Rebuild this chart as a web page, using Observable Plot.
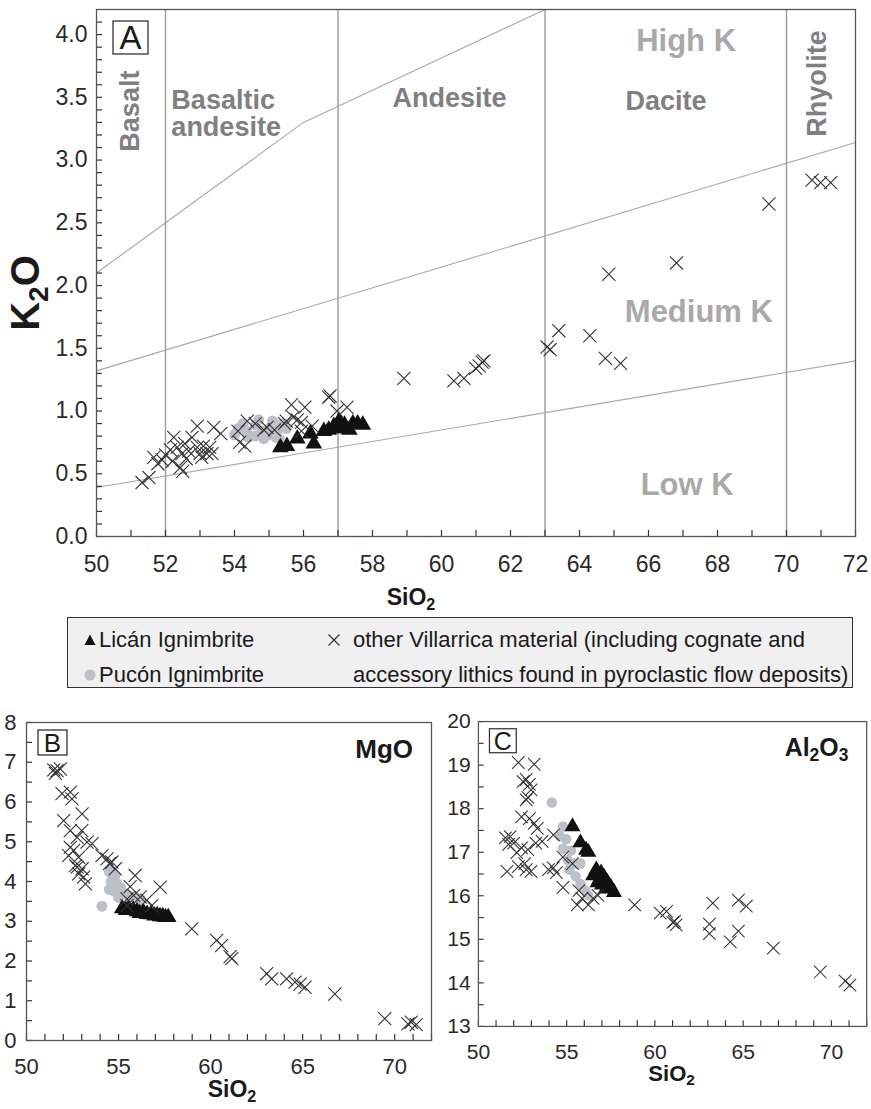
<!DOCTYPE html>
<html>
<head>
<meta charset="utf-8">
<script src="https://cdn.jsdelivr.net/npm/d3@7"></script>
<script src="https://cdn.jsdelivr.net/npm/@observablehq/plot@0.6"></script>
<style>
  html, body { margin: 0; padding: 0; background: #fff; }
  #fig { position: relative; width: 871px; height: 1109px; overflow: hidden;
         font-family: "Liberation Sans", Arial, Helvetica, sans-serif; color: #222; }
  #legend { position: absolute; left: 67px; top: 617px; width: 786px; height: 71px; box-sizing: border-box;
            background: #f0f0f0; border: 1.5px solid #333; }
  #legend .t { position: absolute; font-size: 22px; line-height: 26px; white-space: nowrap; color: #1a1a1a; }
  #legend svg { position: absolute; }
</style>
</head>
<body>
<div id="fig">
  <div id="legend"></div>
</div>
<script>
// ---------------- DATA ----------------
// Panel A: K2O vs SiO2 (wt%)
const licanK2O = [[55.33,0.71],[55.52,0.72],[55.82,0.78],[56.2,0.82],[56.3,0.74],[56.59,0.84],[56.73,0.85],
  [56.88,0.88],[57.03,0.92],[57.08,0.86],[57.19,0.89],[57.33,0.85],[57.43,0.90],[57.57,0.90],[57.72,0.89]];
const puconK2O = [[54.1,0.86],[54.35,0.84],[54.6,0.80],[54.85,0.78],[55.05,0.81],[55.25,0.85],[54.6,0.89],
  [55.0,0.86],[55.4,0.90],[55.5,0.86],[55.2,0.79],[54.8,0.84],[54.25,0.90],[54.4,0.79],[54.7,0.93],
  [55.1,0.92],[55.3,0.78],[54.0,0.81]];
const otherK2O = [[51.32,0.43],[51.52,0.47],[51.66,0.63],[51.78,0.58],[51.9,0.61],[52.0,0.65],[52.14,0.69],
  [52.24,0.79],[52.2,0.60],[52.34,0.71],[52.43,0.55],[52.5,0.52],[52.48,0.66],[52.56,0.74],[52.67,0.68],
  [52.77,0.79],[52.6,0.62],[52.92,0.88],[52.92,0.71],[53.0,0.66],[53.1,0.72],[53.05,0.63],[53.2,0.66],
  [53.28,0.71],[53.35,0.66],[53.4,0.87],[53.6,0.82],[54.1,0.84],[54.15,0.75],[54.3,0.72],[54.37,0.92],
  [54.6,0.90],[54.85,0.85],[54.94,0.87],[55.16,0.85],[55.45,0.90],[55.5,0.92],[55.65,1.05],[55.7,0.95],
  [55.82,0.93],[55.94,0.91],[56.04,1.03],[55.94,0.84],[56.25,0.88],[56.73,1.11],[56.77,1.12],[56.97,1.00],
  [57.26,1.03],[58.91,1.26],[60.36,1.24],[60.65,1.26],[60.99,1.34],[61.09,1.36],[61.18,1.39],[61.23,1.40],
  [63.06,1.51],[63.15,1.49],[63.4,1.64],[64.3,1.60],[64.75,1.42],[65.19,1.38],[64.85,2.09],[66.81,2.18],
  [69.49,2.65],[70.74,2.84],[70.99,2.82],[71.28,2.82]];
const lowMediumK = [[50,0.39],[72,1.40]];
const mediumHighK = [[50,1.32],[72,3.14]];
const highShoshoniticK = [[50,2.10],[56,3.30],[63,4.20]];
const rockDividers = [52, 57, 63, 70];
const rockNames = ["Basalt", "Basaltic", "andesite", "Andesite", "Dacite", "Rhyolite"];
const rockNameX = [50.99, 52.17, 52.17, 60.23, 66.51, 70.89];
const rockNameY = [3.39, 3.41, 3.19, 3.49, 3.47, 3.61];
const seriesNames = ["High K", "Medium K", "Low K"];
const seriesNameX = [67.09, 67.46, 67.12];
const seriesNameY = [3.95, 1.79, 0.41];
const k2oTickLabels = [0, 0.5, 1.0, 1.5, 2.0, 2.5, 3.0, 3.5, 4.0];
const k2oMinorTicks = d3.range(0, 42).map(i => i / 10);
const sio2TickLabelsA = [50, 52, 54, 56, 58, 60, 62, 64, 66, 68, 70, 72];
const sio2MinorTicks = d3.range(50, 73);

// Panel B: MgO vs SiO2
const licanMgO = [[55.2,3.32],[55.4,3.28],[55.55,3.30],[55.8,3.28],[56.0,3.25],[56.15,3.20],[56.35,3.22],
  [56.55,3.18],[56.75,3.17],[56.95,3.14],[57.1,3.15],[57.25,3.12],[57.4,3.12],[57.55,3.10],[57.7,3.10]];
const puconMgO = [[54.5,4.25],[54.8,4.15],[54.6,4.0],[54.9,3.95],[54.5,3.8],[54.8,3.75],[55.1,3.85],
  [55.0,3.6],[55.3,3.7],[55.6,3.62],[55.9,3.6],[56.2,3.55],[54.1,3.38]];
const otherMgO = [[51.48,6.81],[51.66,6.79],[51.84,6.83],[51.57,6.72],[51.93,6.21],[52.38,6.25],[52.47,6.08],
  [53.02,5.70],[52.02,5.53],[52.38,5.28],[53.0,5.28],[52.75,5.11],[53.29,4.99],[53.56,4.95],[52.38,4.86],
  [52.56,4.78],[52.29,4.65],[52.83,4.61],[52.66,4.40],[53.02,4.32],[52.84,4.19],[53.2,3.94],[53.1,4.11],
  [52.75,4.36],[54.1,4.65],[54.37,4.57],[54.64,4.49],[54.82,4.32],[54.5,4.45],[55.9,4.15],[55.63,3.87],
  [57.26,3.86],[55.46,3.56],[55.82,3.65],[56.18,3.61],[56.54,3.53],[55.46,3.39],[56.8,3.39],[58.98,2.81],
  [60.33,2.52],[60.6,2.39],[61.06,2.11],[61.15,2.06],[63.05,1.68],[63.32,1.55],[64.13,1.55],[64.59,1.47],
  [64.86,1.42],[65.13,1.34],[66.75,1.17],[69.46,0.55],[70.72,0.42],[70.9,0.46],[71.17,0.40]];
const mgoTickLabels = [0, 1, 2, 3, 4, 5, 6, 7, 8];
const mgoMinorTicks = d3.range(0, 17).map(i => i / 2);

// Panel C: Al2O3 vs SiO2
const licanAl2O3 = [[55.33,17.59],[55.78,17.22],[56.1,17.05],[56.23,17.0],[56.5,16.46],[56.68,16.6],
  [56.86,16.38],[56.95,16.53],[57.13,16.42],[57.22,16.16],[57.31,16.31],[57.5,16.2],[57.68,16.08],[56.75,16.3],[57.0,16.25]];
const puconAl2O3 = [[54.16,18.14],[54.79,17.59],[54.61,17.37],[54.97,17.3],[54.79,17.08],[55.24,17.04],
  [55.06,16.82],[55.42,16.74],[55.15,16.6],[55.78,16.74],[55.51,16.45],[55.78,16.27],[56.05,16.12],[56.23,16.01]];
const otherAl2O3 = [[52.26,19.06],[53.16,19.02],[52.53,18.62],[52.71,18.67],[52.89,18.56],[52.98,18.43],
  [52.8,18.26],[52.71,18.2],[52.44,17.81],[52.89,17.77],[53.16,17.66],[53.34,17.55],[51.53,17.33],[51.8,17.36],
  [51.71,17.18],[52.0,17.21],[52.17,16.99],[52.44,17.1],[52.8,17.06],[53.25,17.21],[53.61,17.25],[54.25,17.4],
  [51.62,16.56],[52.26,16.67],[52.62,16.74],[52.71,16.6],[52.98,16.56],[53.97,16.6],[54.24,16.64],[54.42,16.53],
  [54.78,16.89],[54.79,16.19],[55.33,16.74],[55.69,16.12],[55.6,15.79],[55.87,15.94],[56.23,15.79],[56.5,15.94],
  [56.77,16.01],[58.85,15.79],[60.3,15.6],[60.66,15.64],[61.02,15.39],[61.2,15.33],[61.11,15.41],[63.09,15.35],
  [63.09,15.13],[63.28,15.83],[64.27,14.94],[64.73,15.19],[64.73,15.9],[65.18,15.76],[66.71,14.8],[69.37,14.25],
  [70.78,14.04],[71.05,13.95]];
const al2o3TickLabels = [13, 14, 15, 16, 17, 18, 19, 20];
const al2o3MinorTicks = d3.range(26, 41).map(i => i / 2);
const sio2TickLabelsBC = [50, 55, 60, 65, 70];

// ---------------- RENDER ----------------
const font = '"Liberation Sans", Arial, Helvetica, sans-serif';
const fig = document.getElementById("fig");
const pt = {x: d => d[0], y: d => d[1]};
const gray = "#bcc0c7";
const TICK = 6;

function place(node, left, top) {
  const w = document.createElement("div");
  w.style.cssText = `position:absolute;left:${left}px;top:${top}px;`;
  w.appendChild(node);
  fig.appendChild(w);
  return node;
}
function symbols(pucon, lican, other) {
  return [
    Plot.dot(pucon, {...pt, r: 5.5, fill: gray, stroke: "none"}),
    Plot.dot(lican, {...pt, symbol: "triangle", r: 6.2, fill: "#111", stroke: "none"}),
    Plot.dot(other, {...pt, symbol: "times", r: 6, stroke: "#333", strokeWidth: 1.1, fill: "none"})
  ];
}
// Inward minor ticks as short rules; their data-space length is derived from the
// pixel size of the inner plot area so that each stub is TICK pixels long.
function axes(xDom, yDom, yMajor, yFmt, xMajor, yMinor, xMinor, w, h, fs, yPad, xPad) {
  const dx = (xDom[1] - xDom[0]) * TICK / w;
  const dy = (yDom[1] - yDom[0]) * TICK / h;
  return [
    Plot.ruleY(yMinor, {y: d => d, x1: xDom[0], x2: xDom[0] + dx, stroke: "#333", strokeWidth: 1.2}),
    Plot.ruleX(xMinor, {x: d => d, y1: yDom[0], y2: yDom[0] + dy, stroke: "#333", strokeWidth: 1.2}),
    Plot.axisY(yMajor, {tickSize: 0, tickPadding: yPad, tickFormat: yFmt, fontSize: fs, fill: "#2a2a2a", label: null}),
    Plot.axisX(xMajor, {tickSize: 0, tickPadding: xPad, tickFormat: d => String(d), fontSize: fs, fill: "#2a2a2a", label: null}),
    Plot.frame({stroke: "#555", strokeWidth: 1.3})
  ];
}
function richText(svg, parts, {x, y, size, weight = "bold", anchor = "middle", rotate = 0, fill = "#1a1a1a"}) {
  const t = d3.select(svg).append("text")
    .attr("transform", `translate(${x},${y}) rotate(${rotate})`)
    .attr("text-anchor", anchor).attr("font-size", size).attr("font-weight", weight)
    .attr("font-family", font).attr("fill", fill);
  let shifted = 0;
  for (const [s, sub] of parts) {
    const ts = t.append("tspan").text(s);
    const want = sub ? size * 0.22 : 0;
    if (want !== shifted) { ts.attr("dy", want - shifted); shifted = want; }
    if (sub) ts.attr("font-size", size * 0.7);
  }
}
function boxLabel(svg, letter, x, y, w, h, size) {
  const s = d3.select(svg);
  s.append("rect").attr("x", x).attr("y", y).attr("width", w).attr("height", h)
    .attr("fill", "#fff").attr("stroke", "#333").attr("stroke-width", 1.3);
  s.append("text").attr("x", x + w / 2).attr("y", y + h / 2 + size * 0.36)
    .attr("text-anchor", "middle").attr("font-size", size).attr("font-family", font)
    .attr("fill", "#1a1a1a").text(letter);
}
const common = {style: {fontFamily: font, background: "none", overflow: "visible", color: "#2a2a2a"}};

// ----- Panel A -----
const A = {width: 871, height: 612, marginLeft: 96, marginRight: 16, marginTop: 9, marginBottom: 76};
const xDomA = [50, 72], yDomA = [0, 4.2];
const svgA = Plot.plot({
  ...common, ...A,
  x: {domain: xDomA}, y: {domain: yDomA},
  marks: [
    Plot.ruleX(rockDividers, {stroke: "#9a9a9a", strokeWidth: 1.4}),
    Plot.line(lowMediumK, {...pt, stroke: "#a8a8a8", strokeWidth: 1.1}),
    Plot.line(mediumHighK, {...pt, stroke: "#a8a8a8", strokeWidth: 1.1}),
    Plot.line(highShoshoniticK, {...pt, stroke: "#a8a8a8", strokeWidth: 1.1}),
    Plot.text([0, 5], {x: i => rockNameX[i], y: i => rockNameY[i], text: i => rockNames[i],
      rotate: -90, fontSize: 27, fontWeight: "bold", fill: "#808080"}),
    Plot.text([1, 2], {x: i => rockNameX[i], y: i => rockNameY[i], text: i => rockNames[i], textAnchor: "start",
      lineAnchor: "bottom", fontSize: 27, fontWeight: "bold", fill: "#808080"}),
    Plot.text([3, 4], {x: i => rockNameX[i], y: i => rockNameY[i], text: i => rockNames[i],
      fontSize: 27, fontWeight: "bold", fill: "#808080"}),
    Plot.text(d3.range(seriesNames.length), {x: i => seriesNameX[i], y: i => seriesNameY[i], text: i => seriesNames[i],
      fontSize: 31, fontWeight: "bold", fill: "#a9a9a9"}),
    ...symbols(puconK2O, licanK2O, otherK2O),
    ...axes(xDomA, yDomA, k2oTickLabels, ".1f", sio2TickLabelsA, k2oMinorTicks, sio2MinorTicks,
      A.width - A.marginLeft - A.marginRight, A.height - A.marginTop - A.marginBottom, 23, 9, 19)
  ]
});
place(svgA, 0, 0);
boxLabel(svgA, "A", 113, 21, 35, 33, 33);
richText(svgA, [["K", false], ["2", true], ["O", false]], {x: 39, y: 293, size: 40, rotate: -90});
richText(svgA, [["SiO", false], ["2", true]], {x: 411, y: 605, size: 23});

// ----- Panel B -----
const B = {width: 440, height: 409, marginLeft: 26, marginRight: 9, marginTop: 22, marginBottom: 69};
const xDomB = [50, 72], yDomB = [0, 8];
const svgB = Plot.plot({
  ...common, ...B,
  x: {domain: xDomB}, y: {domain: yDomB},
  marks: [
    ...symbols(puconMgO, licanMgO, otherMgO),
    ...axes(xDomB, yDomB, mgoTickLabels, d => String(d), sio2TickLabelsBC, mgoMinorTicks, sio2MinorTicks,
      B.width - B.marginLeft - B.marginRight, B.height - B.marginTop - B.marginBottom, 22, 10, 18)
  ]
});
place(svgB, 0, 700);
boxLabel(svgB, "B", 38, 30, 29, 25, 26);
richText(svgB, [["MgO", false]], {x: 413, y: 58, size: 26, anchor: "end"});
richText(svgB, [["SiO", false], ["2", true]], {x: 232, y: 397, size: 23});

// ----- Panel C -----
const C = {width: 460, height: 409, marginLeft: 50, marginRight: 5, marginTop: 22, marginBottom: 69};
const xDomC = [50, 72], yDomC = [13, 20];
const svgC = Plot.plot({
  ...common, ...C,
  x: {domain: xDomC}, y: {domain: yDomC},
  marks: [
    ...symbols(puconAl2O3, licanAl2O3, otherAl2O3),
    ...axes(xDomC, yDomC, al2o3TickLabels, d => String(d), sio2TickLabelsBC, al2o3MinorTicks, sio2MinorTicks,
      C.width - C.marginLeft - C.marginRight, C.height - C.marginTop - C.marginBottom, 22, 8, 18)
  ]
});
place(svgC, 430, 700);
boxLabel(svgC, "C", 62, 30, 28, 25, 26);
richText(svgC, [["Al", false], ["2", true], ["O", false], ["3", true]], {x: 370, y: 58, size: 26, anchor: "start"});
richText(svgC, [["SiO", false], ["2", true]], {x: 252, y: 397, size: 23});

// ----- Legend -----
const legend = d3.select("#legend");
const legendItems = [
  {sym: "triangle", text: "Licán Ignimbrite", sx: 15, tx: 31, y: 22},
  {sym: "circle", text: "Pucón Ignimbrite", sx: 15, tx: 31, y: 57},
  {sym: "times", text: "other Villarrica material (including cognate and", sx: 259, tx: 285, y: 22},
  {sym: null, text: "accessory lithics found in pyroclastic flow deposits)", sx: 0, tx: 285, y: 57}
];
for (const it of legendItems) {
  if (it.sym) {
    const s = legend.append("svg").attr("width", 14).attr("height", 14)
      .style("left", it.sx + "px").style("top", (it.y - 7) + "px");
    if (it.sym === "triangle") s.append("polygon").attr("points", "7,1.5 12.5,12 1.5,12").attr("fill", "#111");
    if (it.sym === "circle") s.append("circle").attr("cx", 7).attr("cy", 7).attr("r", 5.5).attr("fill", gray);
    if (it.sym === "times") s.append("path").attr("d", "M1.5,1.5L12.5,12.5M12.5,1.5L1.5,12.5")
      .attr("stroke", "#333").attr("stroke-width", 1.2);
  }
  legend.append("div").attr("class", "t").style("left", it.tx + "px").style("top", (it.y - 13) + "px").text(it.text);
}
</script>
</body>
</html>
